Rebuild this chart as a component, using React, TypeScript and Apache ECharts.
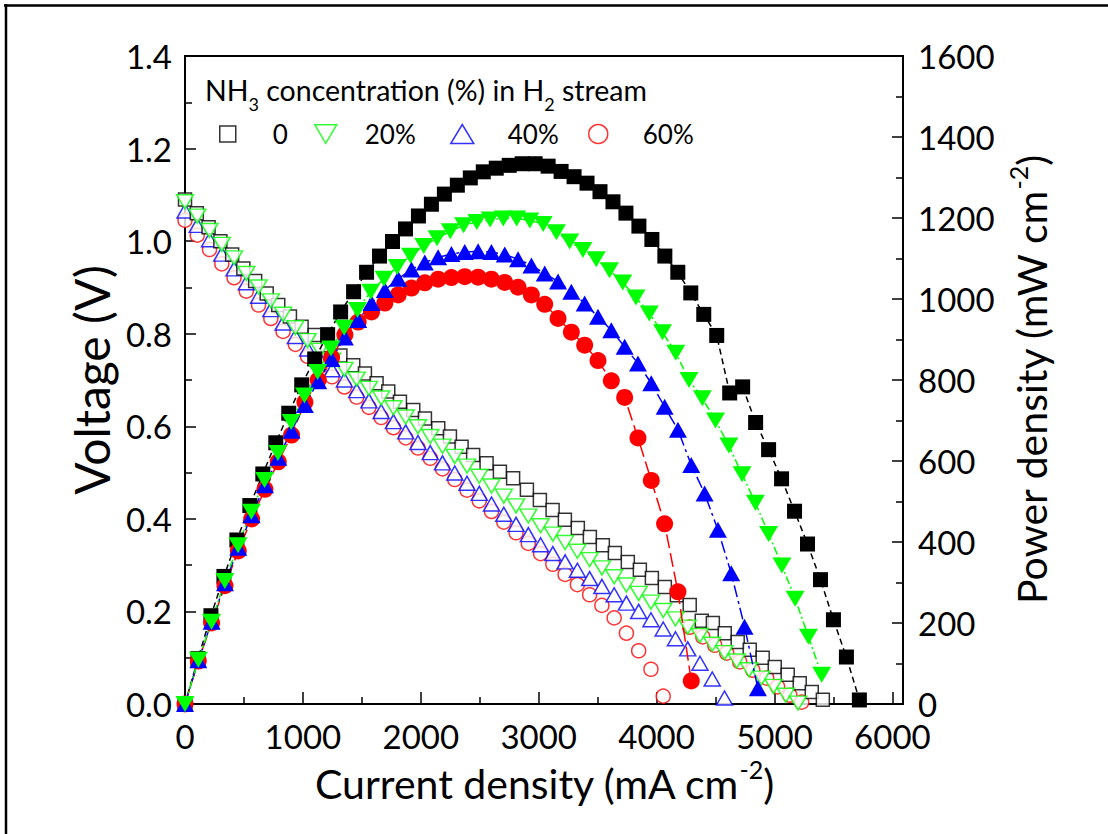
import React, { useEffect, useRef } from "react";
import * as echarts from "echarts";

const FONT = "Lato, 'Open Sans', sans-serif";
const DOWN = "path://M0,0L20,0L10,17Z";

// ---------- Voltage (open symbols, left axis) ----------
const vI0 = [0,100,200,300,400,495,595,693,791,890,989,1100,1210,1318,1427,1526,1625,1724,1823,1936,2035,2148,2247,2346,2444,2558,2671,2783,2900,3010,3118,3222,3332,3434,3544,3646,3756,3858,3960,4070,4172,4281,4383,4477,4578,4688,4790,4900,5002,5112,5214,5316,5410];
const vV0 = [1.090,1.060,1.030,1.000,0.971,0.941,0.914,0.887,0.862,0.837,0.815,0.797,0.775,0.753,0.732,0.714,0.693,0.675,0.653,0.635,0.617,0.596,0.578,0.556,0.538,0.520,0.502,0.488,0.463,0.441,0.419,0.398,0.380,0.361,0.343,0.326,0.307,0.290,0.272,0.253,0.235,0.214,0.180,0.175,0.153,0.134,0.117,0.100,0.080,0.063,0.045,0.026,0.009];

const vI20 = [0,104,208,312,416,520,624,728,832,936,1040,1144,1248,1352,1456,1560,1664,1768,1872,1976,2080,2184,2288,2392,2496,2600,2704,2808,2912,3016,3120,3224,3328,3432,3536,3640,3744,3848,3952,4056,4160,4264,4368,4472,4576,4680,4784,4888,4992,5096,5200];
const vV20 = [1.085,1.054,1.023,0.993,0.964,0.930,0.901,0.871,0.842,0.813,0.785,0.764,0.743,0.723,0.702,0.682,0.661,0.640,0.620,0.599,0.578,0.557,0.535,0.514,0.492,0.471,0.449,0.428,0.406,0.385,0.367,0.349,0.330,0.312,0.294,0.275,0.257,0.239,0.220,0.202,0.184,0.166,0.148,0.129,0.111,0.093,0.074,0.056,0.038,0.019,0.002];

const vI40 = [0,104,208,312,416,520,624,728,832,936,1040,1144,1248,1352,1456,1560,1664,1768,1872,1976,2080,2184,2288,2392,2496,2600,2704,2808,2912,3016,3120,3224,3328,3432,3536,3640,3744,3848,3952,4056,4160,4264,4368,4472,4576];
const vV40 = [1.065,1.034,1.003,0.972,0.940,0.910,0.881,0.852,0.823,0.794,0.767,0.745,0.722,0.700,0.677,0.655,0.632,0.610,0.588,0.565,0.543,0.521,0.499,0.477,0.455,0.432,0.410,0.388,0.366,0.344,0.325,0.307,0.289,0.271,0.254,0.236,0.218,0.200,0.182,0.162,0.141,0.119,0.088,0.054,0.013];

const vI60 = [0,104,208,312,416,520,624,728,832,936,1040,1144,1248,1352,1456,1560,1664,1768,1872,1976,2080,2184,2288,2392,2496,2600,2704,2808,2912,3016,3120,3224,3328,3432,3536,3640,3744,3848,3952,4056];
const vV60 = [1.045,1.013,0.982,0.951,0.921,0.892,0.862,0.833,0.805,0.777,0.751,0.729,0.707,0.685,0.663,0.641,0.619,0.597,0.575,0.553,0.531,0.508,0.485,0.462,0.439,0.416,0.393,0.370,0.347,0.325,0.302,0.280,0.258,0.236,0.213,0.186,0.153,0.115,0.075,0.017];
const vI60b = [4281,4392,4493,4595,4705,4816,4934,5027,5130,5231];
const vV60b = [0.166,0.145,0.127,0.110,0.091,0.073,0.056,0.037,0.019,0.004];

// ---------- Power density (filled symbols, right axis) ----------
const pI0 = [0,110,220,330,440,550,660,770,880,990,1100,1210,1320,1430,1540,1650,1760,1870,1980,2090,2200,2310,2420,2530,2640,2750,2860,2970,3080,3190,3300,3410,3520,3630,3740,3850,3960,4070,4180,4290,4400,4510,4620,4730,4840,4950,5060,5170,5280,5390,5500,5610,5720];
const pP0 = [0,112,218,315,405,490,568,645,718,788,852,912,968,1018,1066,1106,1142,1173,1205,1234,1259,1281,1299,1314,1323,1330,1334,1334,1328,1315,1302,1286,1265,1240,1212,1180,1147,1106,1066,1015,962,910,768,783,695,628,556,476,395,307,208,116,10];

const pI20 = [0,113,225,338,450,563,675,788,900,1013,1125,1238,1350,1463,1575,1688,1800,1913,2025,2138,2250,2363,2475,2588,2700,2813,2925,3038,3150,3263,3375,3488,3600,3713,3825,3938,4050,4163,4275,4388,4500,4613,4725,4838,4950,5063,5175,5288,5400];
const pP20 = [0,109,203,304,392,475,553,620,696,762,820,878,929,973,1018,1050,1079,1107,1131,1150,1167,1182,1190,1196,1199,1199,1194,1185,1165,1142,1121,1098,1071,1041,1004,964,918,867,800,755,700,638,567,497,420,342,260,166,72];

const pI40 = [0,113,226,339,452,565,678,791,904,1017,1130,1243,1356,1469,1582,1695,1808,1921,2034,2147,2260,2373,2486,2599,2712,2825,2938,3051,3164,3277,3390,3503,3616,3729,3842,3955,4068,4181,4294,4407,4520,4633,4746,4859];
const pP40 = [0,108,203,298,386,466,540,608,675,738,797,852,905,948,990,1022,1050,1073,1090,1103,1111,1116,1118,1116,1110,1098,1083,1063,1043,1018,989,956,923,882,841,792,734,677,590,520,430,323,191,39];

const pI60 = [0,113,226,339,452,565,678,791,904,1017,1130,1243,1356,1469,1582,1695,1808,1921,2034,2147,2260,2373,2486,2599,2712,2825,2938,3051,3164,3277,3390,3503,3616,3729,3842,3955,4068,4181,4294];
const pP60 = [0,106,200,292,378,457,530,598,664,745,800,855,912,943,968,990,1010,1027,1040,1049,1053,1055,1054,1049,1041,1029,1010,987,952,918,886,848,798,757,657,552,445,277,57];

const xTicks = [0, 1000, 2000, 3000, 4000, 5000, 6000];

const zip = (a: number[], b: number[]) => a.map((v, i) => [v, b[i]]);

const BLACK = "#000000";
const GREEN = "#00ff00";
const BLUE = "#0000ff";
const RED = "#ff0000";

function buildOption(): any {
  const tickLabel = { fontSize: 33, fontFamily: FONT, color: "#000" };
  const nameRich = {
    a: { fontSize: 41, fontFamily: FONT, color: "#000", lineHeight: 47, verticalAlign: "bottom" },
    p: { fontSize: 25, fontFamily: FONT, color: "#000", lineHeight: 25, verticalAlign: "top" },
  };
  const voltRich = {
    a: { fontSize: 48, fontFamily: FONT, color: "#000", lineHeight: 54, verticalAlign: "bottom" },
  };
  const legendText = (pad: number) => ({
    fontSize: 26,
    fontFamily: FONT,
    color: "#000",
    lineHeight: 26,
    padding: [0, 0, 0, pad],
  });
  const legendBase = { top: 121, padding: 0, selectedMode: false, orient: "horizontal" };

  return {
    animation: false,
    backgroundColor: "#fff",
    title: {
      text: "{a|NH}{s|3}{a| concentration (%) in H}{s|2}{a| stream}",
      left: 200,
      top: 70,
      textStyle: {
        fontWeight: "normal",
        rich: {
          a: { fontSize: 28.5, fontFamily: FONT, color: "#000", lineHeight: 31, verticalAlign: "top" },
          s: { fontSize: 18, fontFamily: FONT, color: "#000", lineHeight: 38, verticalAlign: "bottom" },
        },
      },
    },
    legend: [
      {
        ...legendBase,
        left: 219,
        itemWidth: 16,
        itemHeight: 16,
        textStyle: legendText(32),
        data: [{ name: "0", icon: "rect", itemStyle: { color: "#fff", borderColor: BLACK, borderWidth: 1.5 } }],
      },
      {
        ...legendBase,
        left: 314,
        itemWidth: 22,
        itemHeight: 19,
        textStyle: legendText(23),
        data: [{ name: "20%", icon: DOWN, itemStyle: { color: "#fff", borderColor: GREEN, borderWidth: 1.5 } }],
      },
      {
        ...legendBase,
        left: 450,
        itemWidth: 23,
        itemHeight: 19,
        textStyle: legendText(29),
        data: [{ name: "40%", icon: "triangle", itemStyle: { color: "#fff", borderColor: BLUE, borderWidth: 1.5 } }],
      },
      {
        ...legendBase,
        left: 588,
        itemWidth: 19,
        itemHeight: 19,
        textStyle: legendText(30),
        data: [{ name: "60%", icon: "circle", itemStyle: { color: "#fff", borderColor: RED, borderWidth: 1.5 } }],
      },
    ],
    grid: {
      left: 185,
      right: 205,
      top: 56,
      bottom: 130,
      show: true,
      borderColor: "#000",
      borderWidth: 2,
      backgroundColor: "transparent",
    },
    xAxis: {
      type: "value",
      min: 0,
      max: 6090,
      interval: 1000,
      axisLine: { show: true, onZero: false, lineStyle: { color: "#000", width: 2 } },
      axisTick: { show: true, inside: true, length: 12, lineStyle: { color: "#000", width: 1.5 } },
      minorTick: { show: true, splitNumber: 2, length: 7, lineStyle: { color: "#000", width: 1.5 } },
      splitLine: { show: false },
      axisLabel: {
        ...tickLabel,
        margin: 15,
        formatter: (v: number) => (xTicks.indexOf(v) >= 0 ? String(v) : ""),
      },
      name: "{a|Current density (mA cm}{p|-2}{a|)}",
      nameLocation: "middle",
      nameGap: 49,
      nameTextStyle: { rich: nameRich },
    },
    yAxis: [
      {
        type: "value",
        min: 0,
        max: 1.4,
        interval: 0.2,
        position: "left",
        axisLine: { show: true, onZero: false, lineStyle: { color: "#000", width: 2 } },
        axisTick: { show: true, inside: true, length: 11, lineStyle: { color: "#000", width: 1.5 } },
        minorTick: { show: true, splitNumber: 2, length: 7, lineStyle: { color: "#000", width: 1.5 } },
        splitLine: { show: false },
        axisLabel: { ...tickLabel, margin: 13, formatter: (v: number) => v.toFixed(1) },
        name: "{a|Voltage (V)}",
        nameLocation: "middle",
        nameGap: 64,
        nameTextStyle: { rich: voltRich },
      },
      {
        type: "value",
        min: 0,
        max: 1600,
        interval: 200,
        position: "right",
        axisLine: { show: true, onZero: false, lineStyle: { color: "#000", width: 2 } },
        axisTick: { show: true, inside: true, length: 11, lineStyle: { color: "#000", width: 1.5 } },
        minorTick: { show: true, splitNumber: 2, length: 7, lineStyle: { color: "#000", width: 1.5 } },
        splitLine: { show: false },
        axisLabel: { ...tickLabel, margin: 15, lineHeight: 26, formatter: (v: number) => String(v) },
        name: "{a|Power density (mW cm}{p|-2}{a|)}",
        nameLocation: "middle",
        nameRotate: 90,
        nameGap: 96,
        nameTextStyle: { rich: nameRich },
      },
    ],
    graphic: [
      { type: "line", shape: { x1: 4, y1: 5.5, x2: 1108, y2: 5.5 }, style: { stroke: "#000", lineWidth: 2.5 } },
      { type: "line", shape: { x1: 6, y1: 4, x2: 6, y2: 834 }, style: { stroke: "#000", lineWidth: 2.5 } },
    ],
    series: [
      {
        name: "60%",
        type: "scatter",
        yAxisIndex: 0,
        symbol: "circle",
        symbolSize: 14,
        itemStyle: { color: "#fff", borderColor: RED, borderWidth: 1.5 },
        data: zip(vI60, vV60).concat(zip(vI60b, vV60b)),
      },
      {
        name: "40%",
        type: "scatter",
        yAxisIndex: 0,
        symbol: "triangle",
        symbolSize: [16, 14],
        itemStyle: { color: "#fff", borderColor: BLUE, borderWidth: 1.5 },
        data: zip(vI40, vV40),
      },
      {
        name: "0",
        type: "scatter",
        yAxisIndex: 0,
        symbol: "rect",
        symbolSize: 13,
        itemStyle: { color: "#fff", borderColor: BLACK, borderWidth: 1.5 },
        data: zip(vI0, vV0),
      },
      {
        name: "20%",
        type: "scatter",
        yAxisIndex: 0,
        symbol: DOWN,
        symbolSize: [17, 14],
        itemStyle: { color: "#fff", borderColor: GREEN, borderWidth: 1.5 },
        data: zip(vI20, vV20),
      },
      {
        name: "P0",
        type: "line",
        yAxisIndex: 1,
        symbol: "rect",
        symbolSize: 15,
        showSymbol: true,
        itemStyle: { color: BLACK },
        lineStyle: { color: BLACK, width: 1.5, type: [6, 4] },
        data: zip(pI0, pP0),
      },
      {
        name: "P60",
        type: "line",
        yAxisIndex: 1,
        symbol: "circle",
        symbolSize: 17,
        showSymbol: true,
        itemStyle: { color: RED },
        lineStyle: { color: RED, width: 1.5, type: [14, 5] },
        data: zip(pI60, pP60),
      },
      {
        name: "P40",
        type: "line",
        yAxisIndex: 1,
        symbol: "triangle",
        symbolSize: [18, 16],
        showSymbol: true,
        itemStyle: { color: BLUE },
        lineStyle: { color: BLUE, width: 1.5, type: [12, 4, 3, 4] },
        data: zip(pI40, pP40),
      },
      {
        name: "P20",
        type: "line",
        yAxisIndex: 1,
        symbol: DOWN,
        symbolSize: [19, 16],
        showSymbol: true,
        itemStyle: { color: GREEN },
        lineStyle: { color: GREEN, width: 1.5, type: [8, 3, 2, 3] },
        data: zip(pI20, pP20),
      },
    ],
  };
}

export default function App() {
  const ref = useRef<HTMLDivElement>(null);
  useEffect(() => {
    document.body.style.margin = "0";
    const chart = echarts.init(ref.current as HTMLDivElement, null, { renderer: "svg" });
    chart.setOption(buildOption());
    return () => chart.dispose();
  }, []);
  return <div ref={ref} style={{ width: 1108, height: 834 }} />;
}
